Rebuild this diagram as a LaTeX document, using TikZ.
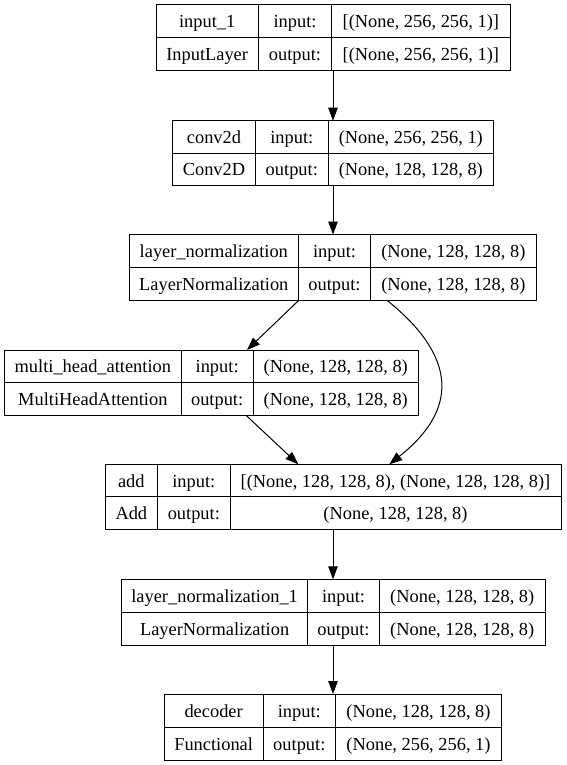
\documentclass[tikz,border=0pt]{standalone}
\usepackage{fontspec}
\setmainfont{Liberation Serif}
\usetikzlibrary{arrows.meta,fit}
\tikzset{
  lbox/.style={draw, line width=1pt, inner sep=0pt, outer sep=0pt, rectangle},
  lline/.style={line width=1pt},
  ltext/.style={inner sep=0pt, text height=13pt, text depth=0pt, font=\fontsize{18.4}{22}\selectfont},
  arr/.style={line width=1pt, -{Triangle[length=13pt,width=9.5pt]}},
}
% name, x0, x1, x2, x3, ytop, ybot
\newcommand\layerbox[7]{%
  \node[lbox, fit={(#2,#6) (#5,#7)}] (#1) {};
  \draw[lline] (#3,#6) -- (#3,#7) (#4,#6) -- (#4,#7) (#2,{(#6+#7)/2}) -- (#5,{(#6+#7)/2});
  \coordinate (#1-11) at ({(#2+#3)/2},{(3*#6+#7)/4});
  \coordinate (#1-12) at ({(#3+#4)/2},{(3*#6+#7)/4});
  \coordinate (#1-13) at ({(#4+#5)/2},{(3*#6+#7)/4});
  \coordinate (#1-21) at ({(#2+#3)/2},{(#6+3*#7)/4});
  \coordinate (#1-22) at ({(#3+#4)/2},{(#6+3*#7)/4});
  \coordinate (#1-23) at ({(#4+#5)/2},{(#6+3*#7)/4});
}
% name, layer name, class, input shape, output shape
\newcommand\layertext[5]{%
  \node[ltext] (#1-t11) at (#1-11) {#2};
  \node[ltext] (#1-t21) at (#1-21) {#3};
  \node[ltext] (#1-t12) at (#1-12) {input:};
  \node[ltext] (#1-t22) at (#1-22) {output:};
  \node[ltext] (#1-t13) at (#1-13) {#4};
  \node[ltext] (#1-t23) at (#1-23) {#5};
}
\begin{document}
\begin{tikzpicture}[x=1pt,y=-1pt]
\useasboundingbox (0,0) rectangle (567,765);
\fill[white] (0,0) rectangle (567,765);

\layerbox{b1}{156}{258.3}{331.7}{510}{5}{70.7}
\layertext{b1}{input\_1}{InputLayer}{[(None, 256, 256, 1)]}{[(None, 256, 256, 1)]}

\layerbox{b2}{172.7}{255.3}{328.3}{493.3}{120.7}{185.7}
\layertext{b2}{conv2d}{Conv2D}{(None, 256, 256, 1)}{(None, 128, 128, 8)}

\layerbox{b3}{129.3}{298.3}{370.7}{536}{234.5}{300.3}
\layertext{b3}{layer\_normalization}{LayerNormalization}{(None, 128, 128, 8)}{(None, 128, 128, 8)}

\layerbox{b4}{4.7}{181}{253.3}{418.3}{350}{415}
\layertext{b4}{multi\_head\_attention}{MultiHeadAttention}{(None, 128, 128, 8)}{(None, 128, 128, 8)}

\layerbox{b5}{105}{157.7}{230}{561}{464.3}{529.3}
\layertext{b5}{add}{Add}{[(None, 128, 128, 8), (None, 128, 128, 8)]}{(None, 128, 128, 8)}

\layerbox{b6}{121.7}{307.5}{379.5}{545}{579.3}{645}
\layertext{b6}{layer\_normalization\_1}{LayerNormalization}{(None, 128, 128, 8)}{(None, 128, 128, 8)}

\layerbox{b7}{164}{263.3}{335.3}{501.7}{694}{760}
\layertext{b7}{decoder}{Functional}{(None, 128, 128, 8)}{(None, 256, 256, 1)}

% port x positions
\coordinate (vx) at (333,0);
\coordinate (p3a) at (298.8,0);
\coordinate (p4in) at (247,0);
\coordinate (p3b) at (387,0);
\coordinate (p5b) at (389.3,0);
\coordinate (p4out) at (245.7,0);
\coordinate (p5a) at (298.3,0);
\coordinate (cc1) at (448.6,349.8);
\coordinate (cc2) at (466,403.5);

\draw[arr] (b1.south -| vx) -- (b2.north -| vx);
\draw[arr] (b2.south -| vx) -- (b3.north -| vx);
\draw[arr] (b3.south -| p3a) -- (b4.north -| p4in);
\draw[arr] (b3.south -| p3b) .. controls (cc1) and (cc2) .. (b5.north -| p5b);
\draw[arr] (b4.south -| p4out) -- (b5.north -| p5a);
\draw[arr] (b5.south -| vx) -- (b6.north -| vx);
\draw[arr] (b6.south -| vx) -- (b7.north -| vx);
\end{tikzpicture}
\end{document}
